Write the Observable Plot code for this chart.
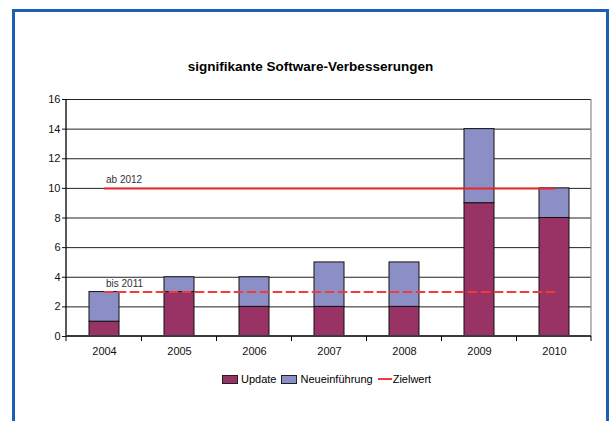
<!DOCTYPE html>
<html>
<head>
<meta charset="utf-8">
<script src="https://cdn.jsdelivr.net/npm/d3@7"></script>
<script src="https://cdn.jsdelivr.net/npm/@observablehq/plot@0.6"></script>
<style>
  html, body { margin: 0; padding: 0; background: #fff; width: 613px; height: 421px; overflow: hidden; font-family: "Liberation Sans", Arial, sans-serif; }
  #frame { position: absolute; left: 12px; top: 9px; width: 591px; height: 420px; border: 3px solid #1a5fb4; border-bottom: none; }
  #title { position: absolute; left: 4px; top: 59px; width: 613px; height: 16px; line-height: 16px; text-align: center; font-weight: bold; font-size: 13.5px; color: #000; }
  #chart { position: absolute; left: 0; top: 85px; }
  #legend { position: absolute; left: 222px; top: 372px; height: 14px; display: flex; align-items: center; font-size: 11px; color: #000; white-space: nowrap; }
  .sw { display: inline-block; width: 14px; height: 7px; border: 1px solid #222; margin-right: 3px; }
  .ln { display: inline-block; width: 14px; height: 0; border-top: 2px solid #ee3a3a; margin-right: 1px; }
  .item { display: flex; align-items: center; margin-right: 5px; }
</style>
</head>
<body>
<div id="frame"></div>
<div id="title">signifikante Software-Verbesserungen</div>
<div id="chart"></div>
<div id="legend"></div>
<script>
// ---- data ----
const years = ["2004", "2005", "2006", "2007", "2008", "2009", "2010"];
const update = [1, 3, 2, 2, 2, 9, 8];
const neueinfuehrung = [2, 1, 2, 3, 3, 5, 2];
const zielAb2012 = [10, 10, 10, 10, 10, 10, 10];
const zielBis2011 = [3, 3, 3, 3, 3, 3, 3];
const zielLabels = ["ab 2012", "bis 2011"];
const zielLabelValues = [10, 3];
const yTicks = [0, 2, 4, 6, 8, 10, 12, 14, 16];
const seriesNames = ["Update", "Neueinführung"];
const seriesColors = ["#993366", "#8b8fc6"];
const zielColor = "#e8262c";
const zielDashColor = "#ef3b3b";

const bars = [];
years.forEach((y, i) => {
  bars.push({ year: y, series: seriesNames[0], value: update[i] });
  bars.push({ year: y, series: seriesNames[1], value: neueinfuehrung[i] });
});
const zielA = years.map((y, i) => ({ year: y, v: zielAb2012[i] }));
const zielB = years.map((y, i) => ({ year: y, v: zielBis2011[i] }));
const labels = zielLabels.map((t, i) => ({ year: years[0], v: zielLabelValues[i], t }));

const padInner = 0.6, padOuter = 0.3;

// custom mark: left axis line, right edge, category-boundary ticks
function excelAxes(index, scales, values, dimensions) {
  const { width, height, marginLeft, marginRight, marginTop, marginBottom } = dimensions;
  const xl = marginLeft, xr = width - marginRight, yb = height - marginBottom, yt = marginTop;
  const g = d3.create("svg:g");
  g.append("line").attr("x1", xr).attr("x2", xr).attr("y1", yt).attr("y2", yb)
    .attr("stroke", "#8a8a8a").attr("stroke-width", 1.2);
  g.append("line").attr("x1", xl).attr("x2", xl).attr("y1", yt).attr("y2", yb)
    .attr("stroke", "#000").attr("stroke-width", 1.3);
  g.append("line").attr("x1", xl).attr("x2", xr).attr("y1", yb).attr("y2", yb)
    .attr("stroke", "#3a3a3a").attr("stroke-width", 2);
  const step = scales.x(years[1]) - scales.x(years[0]);
  const bw = step * (1 - padInner);
  const centers = years.map(y => scales.x(y) + bw / 2);
  const bounds = [xl];
  for (let i = 1; i < centers.length; i++) bounds.push((centers[i - 1] + centers[i]) / 2);
  bounds.push(xr);
  for (const b of bounds) {
    g.append("line").attr("x1", b).attr("x2", b).attr("y1", yb).attr("y2", yb + 5)
      .attr("stroke", "#000").attr("stroke-width", 1);
  }
  return g.node();
}

const chart = Plot.plot({
  width: 613,
  height: 280,
  marginTop: 14,
  marginBottom: 29,
  marginLeft: 66,
  marginRight: 22,
  style: { fontFamily: "'Liberation Sans', Arial, sans-serif", fontSize: "11px", color: "#111", background: "transparent" },
  x: { domain: years, type: "band", paddingInner: padInner, paddingOuter: padOuter, label: null },
  y: { domain: [0, 16], label: null },
  color: { domain: seriesNames, range: seriesColors },
  marks: [
    Plot.ruleY(yTicks.filter(d => d > 0), { stroke: "#222", strokeWidth: 1 }),
    Plot.barY(bars, Plot.stackY({ x: "year", y: "value", fill: "series", stroke: "#111", strokeWidth: 1, order: seriesNames })),
    Plot.lineY(zielA, { x: "year", y: "v", stroke: zielColor, strokeWidth: 2 }),
    Plot.lineY(zielB, { x: "year", y: "v", stroke: zielDashColor, strokeWidth: 2, strokeDasharray: "8,5" }),
    Plot.text(labels, { x: "year", y: "v", text: "t", textAnchor: "start", dx: 1.5, dy: -5, lineAnchor: "bottom", fontSize: 10, fill: "#333" }),
    excelAxes,
    Plot.axisY({ ticks: yTicks, tickSize: 4, tickPadding: 2, tickFormat: d => String(d), fontSize: 11 }),
    Plot.axisX({ tickSize: 0, tickPadding: 11, fontSize: 11 })
  ]
});
document.getElementById("chart").appendChild(chart);

// legend
const legend = document.getElementById("legend");
seriesNames.forEach((name, i) => {
  const it = document.createElement("span");
  it.className = "item";
  const sw = document.createElement("span");
  sw.className = "sw";
  sw.style.background = seriesColors[i];
  it.appendChild(sw);
  it.appendChild(document.createTextNode(name));
  legend.appendChild(it);
});
const it = document.createElement("span");
it.className = "item";
const ln = document.createElement("span");
ln.className = "ln";
it.appendChild(ln);
it.appendChild(document.createTextNode("Zielwert"));
legend.appendChild(it);
</script>
</body>
</html>
